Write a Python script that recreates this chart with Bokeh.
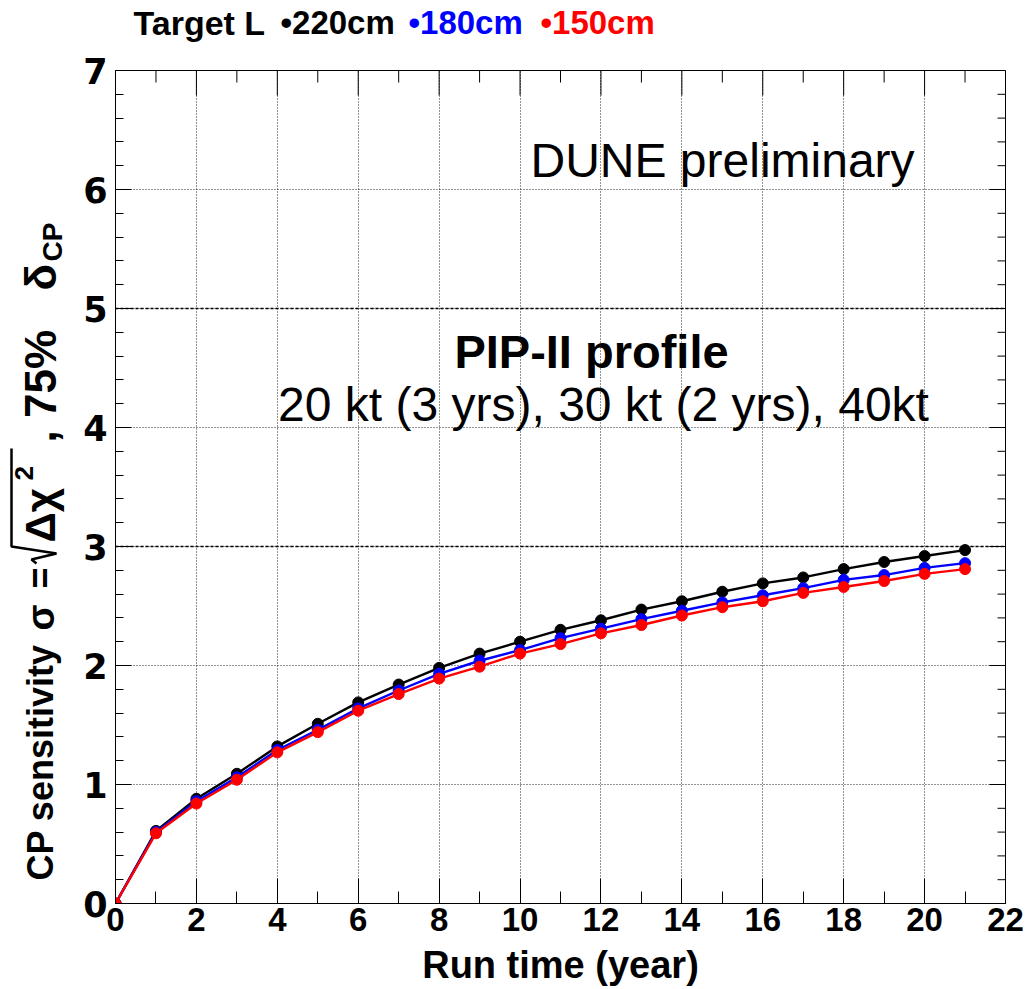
import numpy as np
from bokeh.plotting import figure
from bokeh.layouts import column, row
from bokeh.models import Range1d, SingleIntervalTicker, Span, Label
from bokeh.core.properties import value
from bokeh.embed import file_html
from bokeh.resources import INLINE

# CP-violation sensitivity vs. exposure for three horn target lengths
run_years = list(range(22))
sens_220cm = [0.0, 0.61, 0.88, 1.09, 1.32, 1.51, 1.69, 1.84, 1.98, 2.10, 2.20,
              2.30, 2.38, 2.47, 2.54, 2.62, 2.69, 2.74, 2.81, 2.87, 2.92, 2.97]
sens_180cm = [0.0, 0.60, 0.86, 1.06, 1.29, 1.46, 1.64, 1.79, 1.93, 2.04, 2.13,
              2.23, 2.31, 2.39, 2.46, 2.53, 2.59, 2.65, 2.72, 2.76, 2.82, 2.86]
sens_150cm = [0.0, 0.59, 0.84, 1.04, 1.27, 1.44, 1.62, 1.76, 1.89, 1.99, 2.10,
              2.18, 2.27, 2.34, 2.42, 2.49, 2.54, 2.61, 2.66, 2.71, 2.77, 2.81]
target_lengths = ["220cm", "180cm", "150cm"]
series_colors = ["black", "blue", "red"]
series = list(zip(target_lengths, [sens_220cm, sens_180cm, sens_150cm], series_colors))
reference_levels = [3, 5]

# overall canvas geometry (pixels)
W, H = 1030, 989
HEAD_H = 50          # strip holding the target-length key
YLAB_W = 75          # strip holding the rotated y title
FL, FR, FT, FB = 115, 1005, 70, 903   # plot frame edges on the canvas
X0, X1, Y0, Y1 = 0, 22, 0, 7
FONT = "Liberation Sans"

MW, MH = W - YLAB_W, H - HEAD_H
p = figure(width=MW, height=MH, x_range=Range1d(X0, X1), y_range=Range1d(Y0, Y1),
           output_backend="svg", toolbar_location=None,
           min_border_left=FL - YLAB_W, min_border_right=W - FR,
           min_border_top=FT - HEAD_H, min_border_bottom=H - FB,
           background_fill_color="white", border_fill_color="white")
p.outline_line_color = "black"
p.outline_line_width = 1

xt = SingleIntervalTicker(interval=2, num_minor_ticks=2)
yt = SingleIntervalTicker(interval=1, num_minor_ticks=5)
p.xaxis.ticker = xt
p.yaxis.ticker = yt
p.xgrid.ticker = xt
p.ygrid.ticker = yt
for g in (p.xgrid, p.ygrid):
    g.grid_line_color = "black"
    g.grid_line_dash = "1 2"
    g.grid_line_width = 1
    g.grid_line_alpha = 0.85

XMAJ, XMIN, YMAJ, YMIN = 25, 12, 16, 8
for ax in p.xaxis:
    ax.major_tick_in = XMAJ
    ax.minor_tick_in = XMIN
    ax.major_tick_out = 0
    ax.minor_tick_out = 0
    ax.axis_line_color = "black"
    ax.major_label_text_font = FONT
    ax.major_label_text_font_style = "bold"
    ax.major_label_text_font_size = "33px"
    ax.major_label_text_color = "black"
    ax.major_label_standoff = 4
    ax.axis_label = "Run time (year)"
    ax.axis_label_text_font = FONT
    ax.axis_label_text_font_style = "bold"
    ax.axis_label_text_font_size = "38px"
    ax.axis_label_text_color = "black"
    ax.axis_label_standoff = 10

for ax in p.yaxis:
    ax.major_tick_in = YMAJ
    ax.minor_tick_in = YMIN
    ax.major_tick_out = 0
    ax.minor_tick_out = 0
    ax.axis_line_color = "black"
    ax.major_label_text_font = "DejaVu Sans"
    ax.major_label_text_font_style = "bold"
    ax.major_label_text_font_size = "35px"
    ax.major_label_text_color = "black"
    ax.major_label_standoff = 8

# mirrored tick marks along the top and right frame edges
ux = (X1 - X0) / (FR - FL)
uy = (Y1 - Y0) / (FB - FT)
tx = np.arange(X0, X1 + 0.5, 1.0)
tx_len = np.where(tx % 2 == 0, XMAJ, XMIN) * uy
p.segment(x0=tx, y0=np.full_like(tx, Y1), x1=tx, y1=Y1 - tx_len,
          line_color="black", line_width=1)
ty = np.round(np.arange(Y0, Y1 + 0.01, 0.2), 6)
is_major = np.isclose(ty, np.round(ty))
ty_len = np.where(is_major, YMAJ, YMIN) * ux
p.segment(x0=np.full_like(ty, X1), y0=ty, x1=X1 - ty_len, y1=ty,
          line_color="black", line_width=1)

for lvl in reference_levels:
    p.add_layout(Span(location=lvl, dimension="width", line_color="black",
                      line_dash="3 2", line_width=1.5))

for name, vals, col in series:
    p.line(run_years, vals, line_color=col, line_width=2.4)
    p.scatter(run_years, vals, size=11, marker="circle", fill_color=col, line_color=col)

def frame_label(px, py, text, size, style="normal", align="left"):
    # px, py: canvas pixels; screen units count from the frame's lower-left corner
    p.add_layout(Label(x=px - FL, y=FB - py, x_units="screen", y_units="screen",
                       text=text, text_font=FONT, text_font_size=f"{size}px",
                       text_font_style=style, text_color="black",
                       text_align=align, text_baseline="middle"))

frame_label(530, 160, "DUNE preliminary", 48)
frame_label(591, 351, "PIP-II profile", 47, "bold", align="center")
frame_label(603, 404, "20 kt (3 yrs), 30 kt (2 yrs), 40kt", 48, align="center")


def strip(width, height, y_lo, y_hi, border_top=0, border_bottom=0):
    f = figure(width=width, height=height, x_range=Range1d(0, width),
               y_range=Range1d(y_lo, y_hi), output_backend="svg", toolbar_location=None,
               x_axis_location=None, y_axis_location=None,
               min_border=0, min_border_left=0, min_border_right=0,
               min_border_top=border_top, min_border_bottom=border_bottom,
               background_fill_color="white", border_fill_color="white")
    f.outline_line_color = None
    f.grid.visible = False
    return f

def put(f, x, y, text, size, color="black", style="bold", angle=0.0, align="left"):
    f.text(x=[x], y=[y], text=[text], text_font=value(FONT),
           text_font_size=value(f"{size}px"), text_font_style=value(style),
           text_color=value(color), angle=angle, text_align=value(align),
           text_baseline=value("middle"))

# key strip above the plot (strip y = HEAD_H - canvas y)
head = strip(W, HEAD_H, 0, HEAD_H)
hy = HEAD_H - 22
put(head, 133, hy, "Target L", 34)
key_x = [280, 408, 540]
for kx, name, col in zip(key_x, target_lengths, series_colors):
    put(head, kx, hy, "\u2022" + name, 33, color=col)

# rotated y title strip; its frame lines up with the plot frame,
# so strip y = H - canvas y over the frame's extent
ylab = strip(YLAB_W, MH, H - FB, H - FT, border_top=FT - HEAD_H, border_bottom=H - FB)
R90 = np.pi / 2
CX = 40
def yput(px, py, text, size, **kw):
    put(ylab, px, H - py, text, size, angle=R90, **kw)

yput(CX, 880, "CP sensitivity", 36)
yput(CX, 630, "\u03c3", 38)
yput(CX, 588, "=", 36)
yput(CX, 542, "\u0394\u03c7", 42)
yput(CX - 17, 480, "2", 26)
yput(CX, 442, ", 75%", 44)
yput(CX, 290, "\u03b4", 44)
yput(CX + 12, 261, "CP", 28)

# square-root sign drawn as a polyline, overline spanning the radicand
rad_x = [36, 31, 56, 11, 11]
rad_y = [563, 559, 553, 546, 448]
ylab.line(x=rad_x, y=[H - v for v in rad_y], line_color="black", line_width=2.5)

layout = column(head, row(ylab, p, spacing=0), spacing=0)
open("out.html", "w").write(file_html(layout, INLINE))
